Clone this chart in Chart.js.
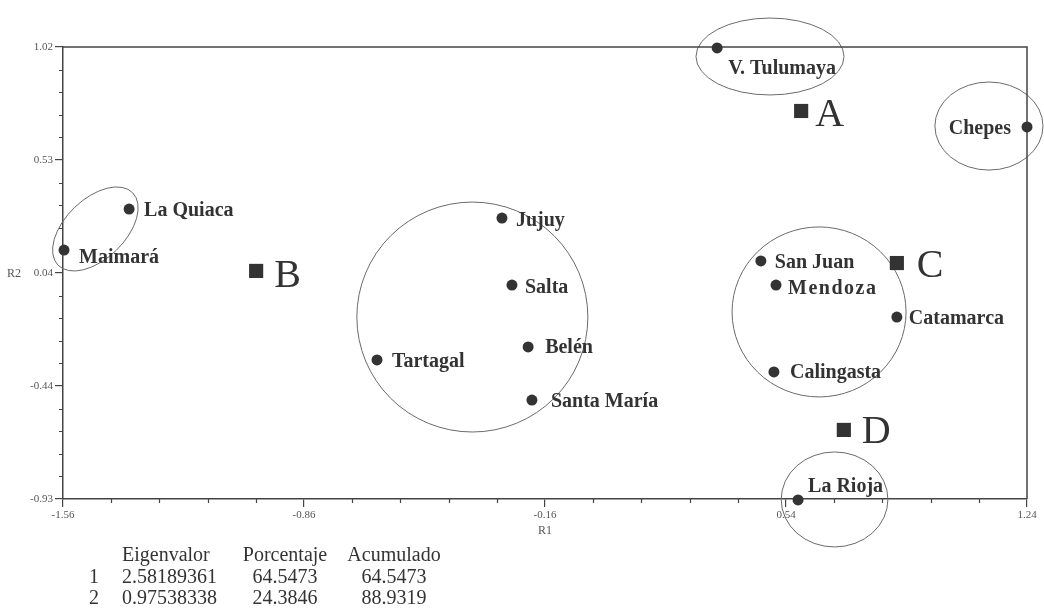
<!DOCTYPE html>
<html>
<head>
<meta charset="utf-8">
<script src="https://cdn.jsdelivr.net/npm/chart.js@4.4.1/dist/chart.umd.min.js"></script>
<style>
  html, body { margin: 0; padding: 0; background: #fff; }
  #wrap { position: relative; width: 1044px; height: 610px; overflow: hidden; }
  #c { position: absolute; left: 0; top: 0; }
  #tbl { position: absolute; left: 0; top: 0; font-family: "Liberation Serif", "Times New Roman", serif; font-size: 20px; color: #333; }
  #tbl span { position: absolute; white-space: nowrap; line-height: 22px; }
</style>
</head>
<body>
<div id="wrap">
  <canvas id="c" width="1044" height="610"></canvas>
  <div id="tbl"></div>
</div>
<script>
// Site scores on the first two axes (R1, R2)
const siteNames = ['V. Tulumaya', 'Chepes', 'La Quiaca', 'Maimará', 'Jujuy', 'Salta', 'Belén',
                   'Tartagal', 'Santa María', 'San Juan', 'Mendoza', 'Catamarca', 'Calingasta', 'La Rioja'];
const siteR1 = [0.340, 1.240, -1.368, -1.557, -0.285, -0.256, -0.209,
                -0.648, -0.198, 0.467, 0.511, 0.862, 0.505, 0.575];
const siteR2 = [1.016, 0.675, 0.321, 0.144, 0.282, -0.007, -0.274,
                -0.330, -0.503, 0.097, -0.007, -0.145, -0.382, -0.934];

// Group markers
const groupNames = ['A', 'B', 'C', 'D'];
const groupR1 = [0.584, -0.999, 0.862, 0.708];
const groupR2 = [0.744, 0.054, 0.088, -0.632];

// Cluster outlines: centre and semi-axes in R1/R2 units, tilt in degrees
const clusterR1 = [0.4935, 1.1295, -1.466, -0.371, 0.636, 0.681];
const clusterR2 = [0.979, 0.679, 0.235, -0.145, -0.123, -0.932];
const clusterHalfR1 = [0.215, 0.157, 0.151, 0.3355, 0.2527, 0.155];
const clusterHalfR2 = [0.166, 0.190, 0.129, 0.496, 0.3667, 0.205];
const clusterTilt = [0, 0, -44, 0, 0, 0];

// Axis tick labels
const xTickLabels = ['-1.56', '-0.86', '-0.16', '0.54', '1.24'];
const yTickLabels = ['-0.93', '-0.44', '0.04', '0.53', '1.02'];

// Eigenvalue table
const tableHeaders = ['Eigenvalor', 'Porcentaje', 'Acumulado'];
const axisNumbers = ['1', '2'];
const eigenvalues = ['2.58189361', '0.97538338'];
const percentages = ['64.5473', '24.3846'];
const cumulative = ['64.5473', '88.9319'];

const X_MIN = -1.56, X_MAX = 1.24, Y_MIN = -0.93, Y_MAX = 1.02;
const majorX = xTickLabels.map((_, i) => X_MIN + i * (X_MAX - X_MIN) / 4);
const majorY = yTickLabels.map((_, i) => Y_MIN + i * (Y_MAX - Y_MIN) / 4);

// Label placement relative to each marker: [dx, baseline dy, align]
const siteLabelPlace = {
  'V. Tulumaya': [11, 26], 'Chepes': [-16, 7, 'right'], 'La Quiaca': [15, 7], 'Maimará': [15, 13],
  'Jujuy': [14, 8], 'Salta': [13, 8], 'Belén': [17, 6], 'Tartagal': [15, 7], 'Santa María': [19, 7],
  'San Juan': [14, 7], 'Mendoza': [12, 9], 'Catamarca': [12, 7], 'Calingasta': [16, 6], 'La Rioja': [10, -8]
};
const groupLabelPlace = { A: [14, 15], B: [18, 16], C: [20, 14], D: [18, 13] };

const INK = '#333';
const AXIS = '#444';
const SERIF = '"Liberation Serif", "Times New Roman", serif';

const decor = {
  id: 'decor',
  beforeDatasetsDraw(chart) {
    const { ctx, chartArea: a, scales: { x, y } } = chart;
    ctx.save();
    // cluster outlines
    ctx.strokeStyle = '#6a6a6a';
    ctx.lineWidth = 1;
    clusterR1.forEach((cx, i) => {
      const px = x.getPixelForValue(cx), py = y.getPixelForValue(clusterR2[i]);
      const rx = Math.abs(x.getPixelForValue(cx + clusterHalfR1[i]) - px);
      const ry = Math.abs(y.getPixelForValue(clusterR2[i] + clusterHalfR2[i]) - py);
      ctx.beginPath();
      ctx.ellipse(px, py, rx, ry, clusterTilt[i] * Math.PI / 180, 0, Math.PI * 2);
      ctx.stroke();
    });
    // top and right frame
    ctx.strokeStyle = AXIS;
    ctx.lineWidth = 1.5;
    ctx.beginPath();
    ctx.moveTo(a.left, a.top); ctx.lineTo(a.right, a.top); ctx.lineTo(a.right, a.bottom);
    ctx.stroke();
    // minor ticks
    ctx.lineWidth = 1.2;
    ctx.beginPath();
    for (let i = 0; i <= 20; i++) {
      if (i % 5 === 0) continue;
      const vx = X_MIN + i * (X_MAX - X_MIN) / 20;
      const px = Math.round(x.getPixelForValue(vx)) + 0.5;
      ctx.moveTo(px, a.bottom); ctx.lineTo(px, a.bottom + 4);
      const vy = Y_MIN + i * (Y_MAX - Y_MIN) / 20;
      const py = Math.round(y.getPixelForValue(vy)) + 0.5;
      ctx.moveTo(a.left - 4, py); ctx.lineTo(a.left, py);
    }
    ctx.stroke();
    ctx.restore();
  },
  afterDatasetsDraw(chart) {
    const { ctx, chartArea: a, scales: { x, y } } = chart;
    ctx.save();
    ctx.fillStyle = INK;
    ctx.textBaseline = 'alphabetic';
    // site names
    ctx.font = 'bold 20px ' + SERIF;
    siteNames.forEach((name, i) => {
      const p = siteLabelPlace[name];
      const px = x.getPixelForValue(siteR1[i]), py = y.getPixelForValue(siteR2[i]);
      ctx.textAlign = p[2] || 'left';
      ctx.letterSpacing = name === 'Mendoza' ? '1.5px' : '0px';
      ctx.fillText(name, px + p[0], py + p[1]);
    });
    ctx.letterSpacing = '0px';
    // group letters
    ctx.font = '40px ' + SERIF;
    ctx.textAlign = 'left';
    groupNames.forEach((g, i) => {
      const p = groupLabelPlace[g];
      ctx.fillText(g, x.getPixelForValue(groupR1[i]) + p[0], y.getPixelForValue(groupR2[i]) + p[1]);
    });
    // axis titles
    ctx.fillStyle = '#555';
    ctx.font = '12px ' + SERIF;
    ctx.textAlign = 'center';
    ctx.textBaseline = 'middle';
    ctx.fillText('R1', (a.left + a.right) / 2, 531);
    ctx.fillText('R2', 14, y.getPixelForValue(majorY[2]) + 1);
    ctx.restore();
  }
};

new Chart(document.getElementById('c'), {
  type: 'scatter',
  data: {
    datasets: [
      {
        label: 'Sitios',
        data: siteR1.map((v, i) => ({ x: v, y: siteR2[i] })),
        pointStyle: 'circle', pointRadius: 5.5, pointHoverRadius: 5.5,
        backgroundColor: INK, borderWidth: 0, clip: false
      },
      {
        label: 'Grupos',
        data: groupR1.map((v, i) => ({ x: v, y: groupR2[i] })),
        pointStyle: 'rect', pointRadius: 10, pointHoverRadius: 10,
        backgroundColor: INK, borderWidth: 0, clip: false
      }
    ]
  },
  options: {
    responsive: false,
    animation: false,
    events: [],
    layout: { padding: { top: 47, right: 17, left: 0, bottom: 0 } },
    plugins: { legend: { display: false }, tooltip: { enabled: false } },
    scales: {
      x: {
        type: 'linear', min: X_MIN, max: X_MAX,
        afterBuildTicks: s => { s.ticks = majorX.map(v => ({ value: v })); },
        afterFit: s => { s.height = 111; },
        ticks: { callback: (v, i) => xTickLabels[i], font: { family: SERIF, size: 11 }, color: '#555', padding: 2, maxRotation: 0, autoSkip: false },
        grid: { drawOnChartArea: false, drawTicks: true, tickLength: 8, color: AXIS, lineWidth: 1.2 },
        border: { display: true, color: AXIS, width: 1.5 }
      },
      y: {
        type: 'linear', min: Y_MIN, max: Y_MAX,
        afterBuildTicks: s => { s.ticks = majorY.map(v => ({ value: v })); },
        afterFit: s => { s.width = 63; },
        ticks: { callback: (v, i) => yTickLabels[i], font: { family: SERIF, size: 11 }, color: '#555', padding: 2, autoSkip: false },
        grid: { drawOnChartArea: false, drawTicks: true, tickLength: 8, color: AXIS, lineWidth: 1.2 },
        border: { display: true, color: AXIS, width: 1.5 }
      }
    }
  },
  plugins: [decor]
});

// Eigenvalue table under the plot
(function buildTable() {
  const box = document.getElementById('tbl');
  const rowTop = [543, 565, 586];
  const put = (text, top, left, align) => {
    const s = document.createElement('span');
    s.textContent = text;
    s.style.top = top + 'px';
    if (align === 'center') { s.style.left = left + 'px'; s.style.transform = 'translateX(-50%)'; }
    else s.style.left = left + 'px';
    box.appendChild(s);
  };
  put(tableHeaders[0], rowTop[0], 122);
  put(tableHeaders[1], rowTop[0], 285, 'center');
  put(tableHeaders[2], rowTop[0], 394, 'center');
  axisNumbers.forEach((n, i) => {
    put(n, rowTop[i + 1], 89);
    put(eigenvalues[i], rowTop[i + 1], 122);
    put(percentages[i], rowTop[i + 1], 285, 'center');
    put(cumulative[i], rowTop[i + 1], 394, 'center');
  });
})();
</script>
</body>
</html>
